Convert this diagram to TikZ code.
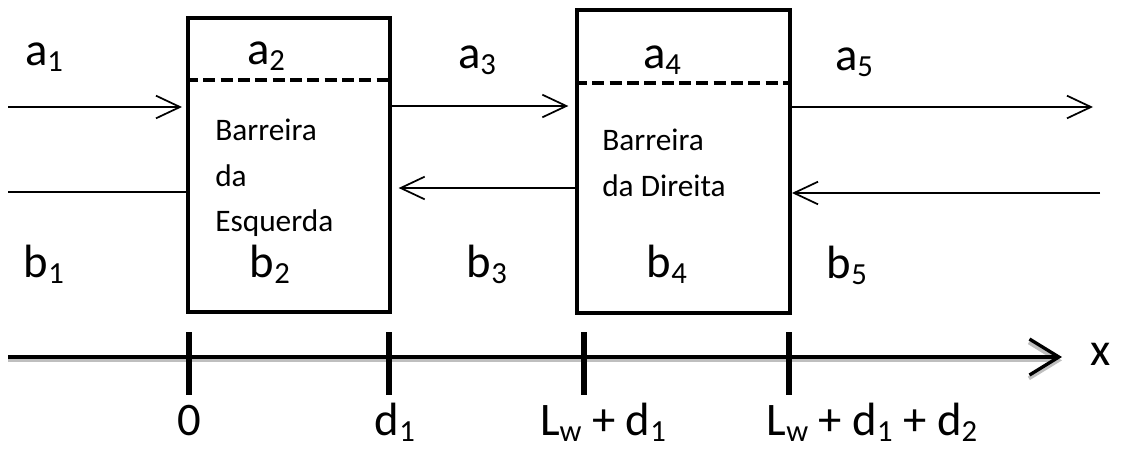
\documentclass[tikz,border=0pt]{standalone}
\usepackage{fontspec}
\setmainfont{Carlito}
\usetikzlibrary{arrows.meta,positioning}

\newcommand{\idx}[1]{\raisebox{-0.13em}{\fontsize{23}{23}\selectfont #1}}

\begin{document}
\begin{tikzpicture}[x=0.75pt,y=-0.75pt,
    barrier/.style={draw,line width=3pt,inner sep=0pt},
    wave/.style={line width=1.3pt,-{Straight Barb[length=18pt,width=17pt,line width=1.3pt]}},
    lbl/.style={anchor=base,inner sep=0pt,font=\fontsize{35}{42}\selectfont},
    note/.style={anchor=north west,inner sep=0pt,align=left,font=\fontsize{23.5}{34}\selectfont},
    tick/.style={line width=4.5pt}]

\useasboundingbox (0,0) rectangle (1124,451);

% barriers
\node[barrier,minimum width=151.5pt,minimum height=220.5pt] (box1) at (289,164.5) {};
\node[barrier,minimum width=159.75pt,minimum height=227.25pt] (box2) at (683.5,161) {};

\draw[line width=2.5pt,dash pattern=on 9pt off 4pt] (box1.west |- 0,80) -- (box1.east |- 0,80);
\draw[line width=2.5pt,dash pattern=on 9pt off 4pt] (box2.west |- 0,83) -- (box2.east |- 0,83);

\node[note] (note1) at (215,119) {Barreira\\da\\Esquerda};
\node[note] (note2) at (602,129) {Barreira\\da Direita};

% amplitudes
\node[lbl] (a1) at (44,65) {a\idx{1}};
\node[lbl] (a2) at (266,64) {a\idx{2}};
\node[lbl] (a3) at (477,68) {a\idx{3}};
\node[lbl] (a4) at (662,68) {a\idx{4}};
\node[lbl] (a5) at (854,70) {a\idx{5}};

\node[lbl] (b1) at (44,277) {b\idx{1}};
\node[lbl] (b2) at (270,277) {b\idx{2}};
\node[lbl] (b3) at (487,277) {b\idx{3}};
\node[lbl] (b4) at (667,277) {b\idx{4}};
\node[lbl] (b5) at (847,278) {b\idx{5}};

% waves
\coordinate (inA) at (8,107);
\coordinate (inB) at (8,192);
\coordinate (outA) at (1093,107);
\coordinate (outB) at (1100,193);

\draw[wave,shorten >=3pt] (inA) -- (box1.west |- inA);
\draw[wave,-] (inB) -- (box1.west |- inB);
\draw[wave,shorten >=5pt] (box1.east |- 0,106) -- (box2.west |- 0,106);
\draw[wave,shorten >=5pt] (box2.west |- 0,188) -- (box1.east |- 0,188);
\draw[wave] (box2.east |- outA) -- (outA);
\draw[wave] (outB) -- (box2.east |- outB);

% x axis
\coordinate (axL) at (8,357);
\coordinate (axR) at (1062,357);
\coordinate (t0) at (189,357);
\coordinate (t1) at (389,357);
\coordinate (t2) at (584,357);
\coordinate (t3) at (789,357);

\draw[gray!50,line width=3pt,-{Straight Barb[length=22pt,width=27pt,line width=3pt]}] ([yshift=-2.5pt]axL) -- ([yshift=-2.5pt]axR);
\draw[line width=2.5pt,-{Straight Barb[length=22pt,width=27pt,line width=2.5pt]}] (axL) -- (axR);
\node[lbl] (xlbl) at (1101,365) {x};

\draw[tick] ([yshift=18.75pt]t0) -- ([yshift=-28.5pt]t0);
\draw[tick] ([yshift=18.75pt]t1) -- ([yshift=-28.5pt]t1);
\draw[tick] ([yshift=18.75pt]t2) -- ([yshift=-28.5pt]t2);
\draw[tick] ([yshift=18.75pt]t3) -- ([yshift=-28.5pt]t3);

\node[lbl] (x0) at (189,435) {0};
\node[lbl] (x1) at (395,435) {d\idx{1}};
\node[lbl] (x2) at (603,435) {L\idx{w} + d\idx{1}};
\node[lbl] (x3) at (872,435) {L\idx{w} + d\idx{1} + d\idx{2}};

\end{tikzpicture}
\end{document}
